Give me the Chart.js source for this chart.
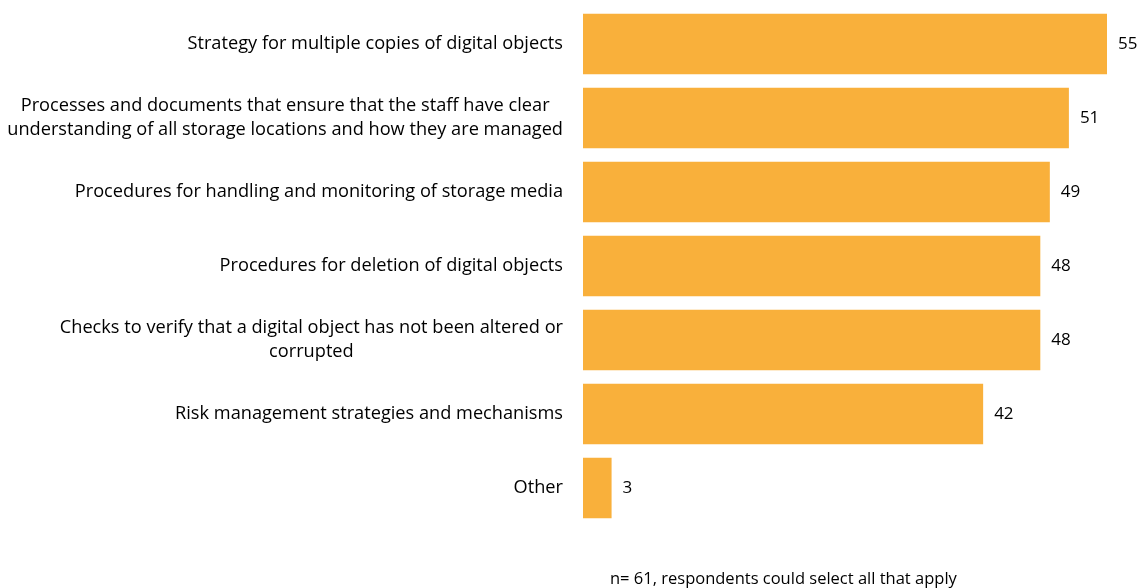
<!DOCTYPE html>
<html>
<head>
<meta charset="utf-8">
<script src="https://cdn.jsdelivr.net/npm/chart.js@4/dist/chart.umd.min.js"></script>
<style>
  html, body { margin: 0; padding: 0; background: #fff; }
  #wrap { position: relative; width: 1138px; height: 588px; }
  #note { position: absolute; left: 610px; top: 566px; font: 16.5px "Open Sans", sans-serif; color: #000; white-space: nowrap; }
</style>
</head>
<body>
<div id="wrap">
  <canvas id="chart" width="1138" height="588"></canvas>
  <div id="note">n= 61, respondents could select all that apply</div>
</div>
<script>
// Données
const categories = [
  ['Strategy for multiple copies of digital objects'],
  ['Processes and documents that ensure that the staff have clear', 'understanding of all storage locations and how they are managed'],
  ['Procedures for handling and monitoring of storage media'],
  ['Procedures for deletion of digital objects'],
  ['Checks to verify that a digital object has not been altered or', 'corrupted'],
  ['Risk management strategies and mechanisms'],
  ['Other'],
];
const counts = [55, 51, 49, 48, 48, 42, 3];

const BAR_COLOR = '#F9B03B';
const FONT = '"Open Sans", sans-serif';
const LABEL_SIZE = 18.2;
const LABEL_LINE = 24;
const LABEL_GAP = 20;
const VALUE_SIZE = 17;

// Libellés de catégories : bloc aligné à droite, lignes centrées entre elles
const categoryLabels = {
  id: 'categoryLabels',
  afterDraw(chart) {
    const ctx = chart.ctx;
    const yScale = chart.scales.y;
    const right = chart.chartArea.left - LABEL_GAP;
    ctx.save();
    ctx.font = `${LABEL_SIZE}px ${FONT}`;
    ctx.fillStyle = '#000';
    ctx.textAlign = 'center';
    ctx.textBaseline = 'middle';
    categories.forEach((lines, i) => {
      const y = yScale.getPixelForTick(i);
      const maxW = Math.max(...lines.map((l) => ctx.measureText(l).width));
      const cx = right - maxW / 2;
      const top = y - ((lines.length - 1) * LABEL_LINE) / 2;
      lines.forEach((line, j) => ctx.fillText(line, cx, top + j * LABEL_LINE));
    });
    ctx.restore();
  },
};

// Affiche la valeur au bout de chaque barre
const valueLabels = {
  id: 'valueLabels',
  afterDatasetsDraw(chart) {
    const ctx = chart.ctx;
    const meta = chart.getDatasetMeta(0);
    ctx.save();
    ctx.font = `${VALUE_SIZE}px ${FONT}`;
    ctx.fillStyle = '#000';
    ctx.textAlign = 'left';
    ctx.textBaseline = 'middle';
    meta.data.forEach((bar, i) => {
      ctx.fillText(String(counts[i]), bar.x + 11, bar.y);
    });
    ctx.restore();
  },
};

new Chart(document.getElementById('chart').getContext('2d'), {
  type: 'bar',
  data: {
    labels: categories,
    datasets: [{
      data: counts,
      backgroundColor: BAR_COLOR,
      borderWidth: 0,
      categoryPercentage: 0.82,
      barPercentage: 1.0,
    }],
  },
  options: {
    indexAxis: 'y',
    responsive: false,
    animation: false,
    layout: { padding: { top: 7, right: 31, bottom: 63, left: 0 } },
    plugins: {
      legend: { display: false },
      tooltip: { enabled: false },
    },
    scales: {
      x: {
        display: false,
        min: 0,
        max: 55,
      },
      y: {
        grid: { display: false, drawTicks: false },
        border: { display: false },
        afterFit: (scale) => {
          scale.width = 583;
          scale.paddingTop = 0;
          scale.paddingBottom = 0;
        },
        ticks: { display: false },
      },
    },
  },
  plugins: [valueLabels, categoryLabels],
});
</script>
</body>
</html>
